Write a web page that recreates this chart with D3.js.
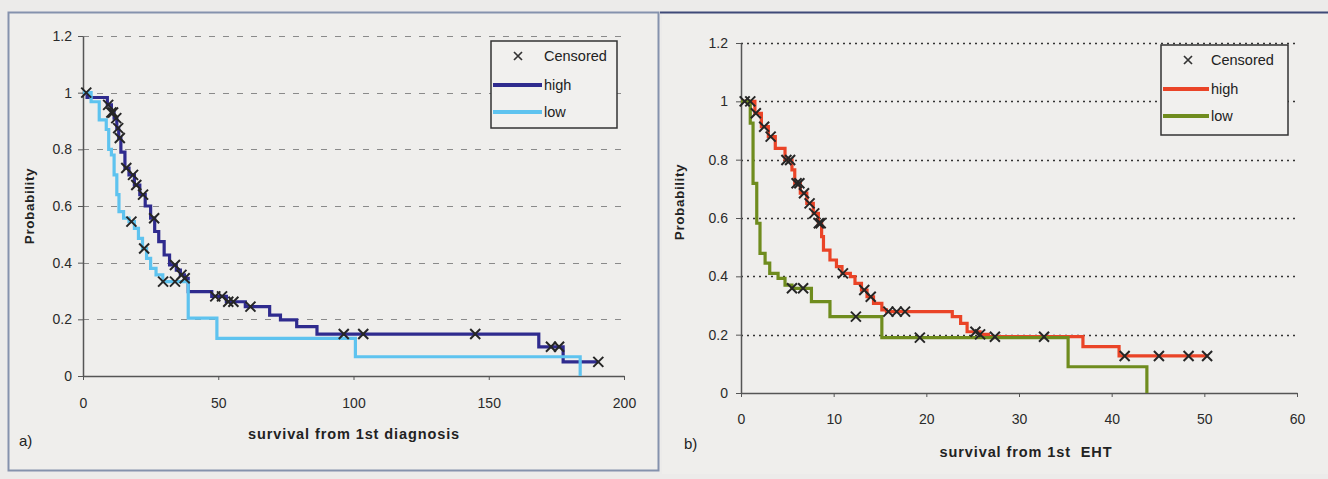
<!DOCTYPE html>
<html><head><meta charset="utf-8">
<script src="https://cdn.jsdelivr.net/npm/d3@7"></script>
<style>
html,body{margin:0;padding:0;background:#ecebea;}
svg{display:block;font-family:"Liberation Sans",Arial,sans-serif;}
</style></head>
<body>
<svg id="c" width="1328" height="479"></svg>
<script>
// ---------- DATA ----------
const yTicks = [0, 0.2, 0.4, 0.6, 0.8, 1, 1.2];
const yTickLabels = ["0", "0.2", "0.4", "0.6", "0.8", "1", "1.2"];
const xTicksA = [0, 50, 100, 150, 200];
const xTicksB = [0, 10, 20, 30, 40, 50, 60];
const seriesNames = ["high", "low"];
const legendCensored = "Censored";

// Panel a) survival from 1st diagnosis (step change times and survival values)
const highA_t = [0, 1.5, 9, 10.5, 11.5, 12.5, 13.2, 14, 15.5, 17, 19, 21, 23, 25, 26.5, 28, 30, 32, 34.5, 36, 37.5, 38.9, 47.6, 53, 60, 69, 73, 79, 86.5, 168.5, 177.5, 190.5];
const highA_p = [1, 0.983, 0.957, 0.93, 0.91, 0.875, 0.84, 0.79, 0.734, 0.71, 0.674, 0.64, 0.60, 0.557, 0.51, 0.474, 0.427, 0.392, 0.374, 0.357, 0.345, 0.298, 0.281, 0.262, 0.245, 0.215, 0.198, 0.174, 0.148, 0.103, 0.05, 0.05];
const highA_cens = [1.2, 9.3, 10.5, 11.1, 12.3, 13, 13.6, 16, 18.5, 19.7, 22.2, 26.3, 34, 36.4, 37.6, 48.9, 51.4, 53.7, 55.6, 61.9, 96.4, 103.6, 145, 173, 176, 190.5];
const lowA_t = [0, 3, 6, 8.6, 9.5, 10.5, 11.5, 12.5, 13.3, 15, 17, 19, 20.5, 22, 23.5, 25, 27, 29.5, 38.9, 49.5, 100.7, 183.8];
const lowA_p = [1, 0.968, 0.904, 0.87, 0.80, 0.78, 0.71, 0.64, 0.58, 0.557, 0.545, 0.521, 0.486, 0.45, 0.415, 0.38, 0.357, 0.333, 0.204, 0.133, 0.068, 0];
const lowA_cens = [17.9, 22.6, 29.6, 34];

// Panel b) survival from 1st EHT
const highB_t = [0, 1.5, 2.2, 2.95, 3.7, 4.75, 5.5, 5.8, 6.4, 7.1, 7.8, 8.35, 8.7, 8.9, 9.6, 10.3, 10.9, 11.8, 12.3, 13, 13.6, 14.3, 15.2, 15.7, 22.8, 23.7, 24.4, 25.8, 26.7, 36.9, 40.8, 50.4];
const highB_p = [1, 0.959, 0.913, 0.879, 0.839, 0.799, 0.765, 0.719, 0.685, 0.65, 0.616, 0.582, 0.536, 0.49, 0.456, 0.433, 0.41, 0.399, 0.376, 0.353, 0.33, 0.307, 0.285, 0.279, 0.262, 0.239, 0.21, 0.201, 0.193, 0.159, 0.127, 0.127];
const highB_cens = [1.0, 1.6, 2.5, 3.2, 4.9, 5.3, 6.0, 6.3, 6.8, 7.4, 7.9, 8.4, 8.6, 11.0, 13.3, 14.0, 15.9, 16.8, 17.7, 25.3, 25.8, 27.4, 32.7, 41.4, 45.1, 48.3, 50.3];
const lowB_t = [0, 1.0, 1.3, 1.7, 2.05, 2.6, 3.1, 4.0, 4.75, 5.5, 7.6, 9.6, 15.2, 35.3, 43.8];
const lowB_p = [1, 0.925, 0.719, 0.582, 0.479, 0.445, 0.41, 0.393, 0.37, 0.359, 0.313, 0.262, 0.19, 0.09, 0];
const lowB_cens = [0.4, 5.5, 6.7, 12.4, 19.3];

// ---------- DRAW ----------
const svg = d3.select("#c");

function stepAt(ts, ps, t) {
  let v = ps[0];
  for (let i = 0; i < ts.length; i++) { if (ts[i] <= t) v = ps[i]; }
  return v;
}

// frames
svg.append("rect").attr("x", 8.5).attr("y", 12.5).attr("width", 650).attr("height", 458)
  .attr("fill", "#efeeec").attr("stroke", "#8592ad").attr("stroke-width", 2);
svg.append("rect").attr("x", 662).attr("y", 14).attr("width", 666).attr("height", 460).attr("fill", "#efeeec");
svg.append("line").attr("x1", 660).attr("x2", 1328).attr("y1", 12.5).attr("y2", 12.5)
  .attr("stroke", "#3f4a78").attr("stroke-width", 2);

function panel(cfg) {
  const x = d3.scaleLinear().domain(cfg.xDomain).range(cfg.xRange);
  const y = d3.scaleLinear().domain([0, 1.2]).range(cfg.yRange);
  const g = svg.append("g");

  // gridlines
  g.selectAll(".grid").data(yTicks.filter(d => d > 0)).join("line")
    .attr("x1", x(cfg.xDomain[0])).attr("x2", x(cfg.xDomain[1]))
    .attr("y1", d => Math.round(y(d)) + 0.5).attr("y2", d => Math.round(y(d)) + 0.5)
    .attr("stroke", cfg.gridColor).attr("stroke-width", cfg.gridWidth)
    .attr("stroke-dasharray", cfg.gridDash);

  // axes
  const ya = g.append("g").attr("transform", `translate(${x(0)},0)`)
    .call(d3.axisLeft(y).tickValues(yTicks).tickFormat((d, i) => yTickLabels[i]).tickSize(5).tickSizeOuter(0).tickPadding(cfg.yPad));
  const xa = g.append("g").attr("transform", `translate(0,${y(0)})`)
    .call(d3.axisBottom(x).tickValues(cfg.xTicks).tickFormat(d3.format("d")).tickSize(4).tickSizeOuter(0).tickPadding(cfg.xPad));
  [ya, xa].forEach(a => {
    a.select(".domain").attr("stroke", "#555").attr("stroke-width", 1.5);
    a.selectAll(".tick line").attr("stroke", "#555");
    a.selectAll("text").attr("fill", "#2a2a2a").style("font-size", "14px")
      .style("font-family", "'Liberation Sans',Arial,sans-serif");
  });

  // series lines
  const line = d3.line().x(d => x(d[0])).y(d => y(d[1])).curve(d3.curveStepAfter);
  cfg.series.forEach(s => {
    const pts = s.t.map((t, i) => [t, s.p[i]]);
    g.append("path").attr("d", line(pts)).attr("fill", "none")
      .attr("stroke", s.color).attr("stroke-width", 3.2).attr("stroke-linejoin", "miter");
  });
  // censored markers
  cfg.series.forEach(s => {
    g.selectAll(null).data(s.cens).join("path")
      .attr("transform", d => `translate(${x(d)},${y(stepAt(s.t, s.p, d))})`)
      .attr("d", "M-5,-5L5,5M-5,5L5,-5")
      .attr("stroke", "#262626").attr("stroke-width", 2).attr("fill", "none");
  });

  // titles
  g.append("text").attr("transform", `translate(${cfg.yTitleX},${cfg.yTitleY}) rotate(-90)`)
    .attr("text-anchor", "middle").attr("font-weight", "bold").attr("font-size", 13.5)
    .attr("letter-spacing", 0.6).attr("fill", "#222").text("Probability");
  g.append("text").attr("x", cfg.xTitleX).attr("y", cfg.xTitleY)
    .attr("text-anchor", "middle").attr("font-weight", "bold").attr("font-size", 14.5)
    .attr("letter-spacing", 0.9).attr("fill", "#222").attr("xml:space", "preserve").text(cfg.xTitle);
  g.append("text").attr("x", cfg.tagX).attr("y", cfg.tagY).attr("font-size", 15)
    .attr("fill", "#222").text(cfg.tag);

  // legend
  const L = cfg.legend;
  g.append("rect").attr("x", L.x).attr("y", L.y).attr("width", L.w).attr("height", L.h)
    .attr("fill", "#f1f0ee").attr("stroke", "#333").attr("stroke-width", 1.5);
  g.append("path").attr("transform", `translate(${L.mx},${L.y + 15})`)
    .attr("d", "M-4,-4L4,4M-4,4L4,-4").attr("stroke", "#333").attr("stroke-width", 1.7);
  g.append("text").attr("x", L.tx).attr("y", L.y + 20).attr("font-size", 14.5).attr("fill", "#222").text(legendCensored);
  cfg.series.forEach((s, i) => {
    const yy = L.y + 44 + i * 27;
    g.append("line").attr("x1", L.x + 2).attr("x2", L.tx - 2).attr("y1", yy).attr("y2", yy)
      .attr("stroke", s.color).attr("stroke-width", 3.8);
    g.append("text").attr("x", L.tx).attr("y", yy + 5).attr("font-size", 14.5).attr("fill", "#222").text(seriesNames[i]);
  });
}

panel({
  xDomain: [0, 200], xRange: [83, 624], yRange: [376, 36], xTicks: xTicksA,
  gridColor: "#8a8a8a", gridWidth: 1, gridDash: "6,8", yPad: 6, xPad: 18,
  series: [
    { t: highA_t, p: highA_p, cens: highA_cens, color: "#2f2b8e" },
    { t: lowA_t, p: lowA_p, cens: lowA_cens, color: "#5ec3ef" }
  ],
  yTitleX: 34, yTitleY: 206, xTitleX: 354, xTitleY: 439, xTitle: "survival from 1st diagnosis",
  tagX: 19, tagY: 446, tag: "a)",
  legend: { x: 491, y: 41, w: 126, h: 87, mx: 518, tx: 544 }
});

panel({
  xDomain: [0, 60], xRange: [741, 1297], yRange: [393, 43], xTicks: xTicksB,
  gridColor: "#333", gridWidth: 1.6, gridDash: "2,4", yPad: 8, xPad: 17,
  series: [
    { t: highB_t, p: highB_p, cens: highB_cens, color: "#ea4427" },
    { t: lowB_t, p: lowB_p, cens: lowB_cens, color: "#6f8c1e" }
  ],
  yTitleX: 684, yTitleY: 202, xTitleX: 1026, xTitleY: 457, xTitle: "survival from 1st  EHT",
  tagX: 684, tagY: 449, tag: "b)",
  legend: { x: 1161, y: 45, w: 127, h: 90, mx: 1188, tx: 1211 }
});
</script>
</body></html>
